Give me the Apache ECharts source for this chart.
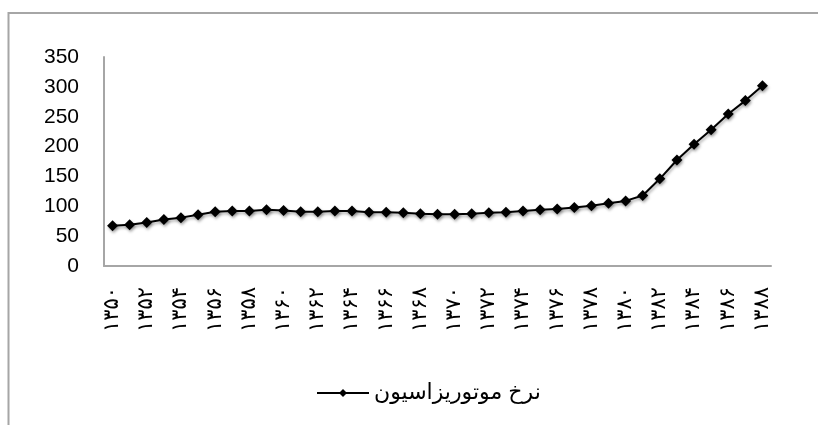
<!DOCTYPE html>
<html>
<head>
<meta charset="utf-8">
<script src="https://cdn.jsdelivr.net/npm/echarts@6/dist/echarts.min.js"></script>
<style>
html,body{margin:0;padding:0;background:#fff;}
#chart{width:818px;height:425px;}
</style>
</head>
<body>
<div id="chart"></div>
<script>
const years = ['۱۳۵۰','۱۳۵۱','۱۳۵۲','۱۳۵۳','۱۳۵۴','۱۳۵۵','۱۳۵۶','۱۳۵۷','۱۳۵۸','۱۳۵۹',
  '۱۳۶۰','۱۳۶۱','۱۳۶۲','۱۳۶۳','۱۳۶۴','۱۳۶۵','۱۳۶۶','۱۳۶۷','۱۳۶۸','۱۳۶۹',
  '۱۳۷۰','۱۳۷۱','۱۳۷۲','۱۳۷۳','۱۳۷۴','۱۳۷۵','۱۳۷۶','۱۳۷۷','۱۳۷۸','۱۳۷۹',
  '۱۳۸۰','۱۳۸۱','۱۳۸۲','۱۳۸۳','۱۳۸۴','۱۳۸۵','۱۳۸۶','۱۳۸۷','۱۳۸۸'];
const motorization = [67.5, 69, 73, 78, 81, 86, 91, 92, 92, 94,
  93, 91, 91, 92, 92, 90, 90, 89, 87.6, 86.5,
  86.5, 87.6, 89, 90, 92, 94, 95.5, 98, 101, 105,
  109, 118, 146, 177.5, 204, 228, 254.6, 277, 302];
const seriesName = 'نرخ موتوریزاسیون';
const yTicks = {min: 0, max: 350, interval: 50};

const chart = echarts.init(document.getElementById('chart'));
chart.setOption({
  animation: false,
  backgroundColor: '#fff',
  graphic: [{
    type: 'polyline',
    shape: {points: [[8.5, 425], [8.5, 13], [818, 13]]},
    style: {stroke: '#a6a6a6', lineWidth: 2, fill: null},
    silent: true
  }],
  grid: {left: 104, right: 47, top: 57, bottom: 159, containLabel: false},
  legend: {
    data: [seriesName],
    left: 311,
    top: 377,
    itemWidth: 52,
    itemHeight: 10,
    itemGap: 8,
    textStyle: {fontFamily: 'Liberation Sans, DejaVu Sans, sans-serif', fontSize: 22, color: '#000'}
  },
  xAxis: {
    type: 'category',
    data: years,
    boundaryGap: true,
    axisLine: {lineStyle: {color: '#a6a6a6', width: 2}},
    axisTick: {show: false},
    axisLabel: {
      interval: 1,
      rotate: 90,
      margin: 21,
      color: '#000',
      fontSize: 21,
      fontFamily: 'DejaVu Sans, sans-serif'
    },
    splitLine: {show: false}
  },
  yAxis: {
    type: 'value',
    min: yTicks.min,
    max: yTicks.max,
    interval: yTicks.interval,
    axisLine: {show: true, lineStyle: {color: '#a6a6a6', width: 2}},
    axisTick: {show: false},
    splitLine: {show: false},
    axisLabel: {
      margin: 25,
      color: '#000',
      fontSize: 21,
      fontFamily: 'Liberation Sans, sans-serif'
    }
  },
  series: [{
    name: seriesName,
    type: 'line',
    data: motorization,
    symbol: 'diamond',
    symbolSize: 11,
    lineStyle: {color: '#000', width: 2, shadowColor: 'rgba(0,0,0,0.35)', shadowBlur: 3, shadowOffsetX: 1, shadowOffsetY: 2},
    itemStyle: {color: '#000', shadowColor: 'rgba(0,0,0,0.35)', shadowBlur: 3, shadowOffsetX: 1, shadowOffsetY: 2}
  }]
});
</script>
</body>
</html>
